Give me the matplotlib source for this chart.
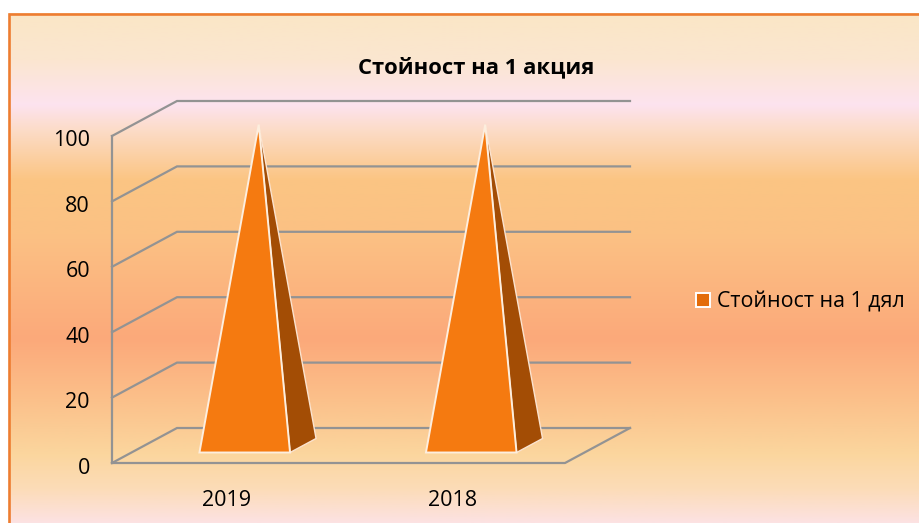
#!/usr/bin/env python3
"""Faux-3D pyramid chart: Стойност на 1 акция."""
import numpy as np
import matplotlib; matplotlib.use("Agg"); import matplotlib.pyplot as plt
from matplotlib.colors import LinearSegmentedColormap
from matplotlib.patches import Patch, Polygon

categories=["2019","2018"]
values=[98,98]
yticks=[0,20,40,60,80,100]
series_name="Стойност на 1 дял"
title="Стойност на 1 акция"

W,H=919,523
PX_X,PX_Y=226.5,3.27   # pixels per category / per value unit
X0,Y0=112,463          # pixel position of the origin
DX,DY=65/PX_X,35/PX_Y  # depth shift of the back wall, data units
plt.rcParams["font.family"]=["Open Sans","DejaVu Sans"]

fig=plt.figure(figsize=(W/100,H/100),dpi=100,facecolor="white")
ax=fig.add_axes([0,0,1,1])
ax.set_xlim(-X0/PX_X,(W-X0)/PX_X); ax.set_ylim((Y0-H)/PX_Y,Y0/PX_Y); ax.axis("off")

def px(x,y): return (x-X0)/PX_X,(Y0-y)/PX_Y
def prj(x,v,d): return x+d*DX,v+d*DY

# background gradient inside the orange frame
stops=[(14,"#fae6c6"),(60,"#fbe6d0"),(105,"#fde3ef"),(130,"#fcdcc8"),(180,"#fbc583"),(235,"#fbc184"),
       (340,"#fca97a"),(400,"#fbc08a"),(455,"#fbd69e"),(490,"#fcdcb8"),(523,"#fce2e2")]
pos=[(s-14)/(523-14) for s,_ in stops]
cmap=LinearSegmentedColormap.from_list("bg",list(zip(pos,[c for _,c in stops])))
x1,y1=px(9,523); x2,y2=px(919,14)
ax.imshow(np.linspace(0,1,256)[:,None],cmap=cmap,aspect="auto",extent=(x1,x2,y1,y2),origin="upper",zorder=0)
ax.set_xlim(-X0/PX_X,(W-X0)/PX_X); ax.set_ylim((Y0-H)/PX_Y,Y0/PX_Y)
ax.plot([x1,x1,x2],[y1,y2,y2],color="#ed7d31",lw=1.9,zorder=5,solid_joinstyle="miter")

# gridlines: front wall edge, back wall, floor
n=len(categories); grid="#939393"
for v in yticks:
    xs,ys=zip(prj(0,v,0),prj(0,v,1),prj(n,v,1))
    ax.plot(xs,ys,color=grid,lw=1.6,zorder=2,solid_joinstyle="miter")
    ax.text(*px(90,Y0-v*PX_Y+5),str(v),ha="right",va="center",fontsize=15.5,color="black")
ax.plot([0,0],[0,100],color=grid,lw=1.6,zorder=2)
ax.plot([0,n,n+DX],[0,0,DY],color=grid,lw=1.6,zorder=2)

# pyramids
for i,(c,v) in enumerate(zip(categories,values)):
    cx=i+.5; hw=.2; d0,d1,dm=.30,.70,.515
    fl=prj(cx-hw,0,d0); fr=prj(cx+hw,0,d0); br=prj(cx+hw,0,d1); top=prj(cx,v,dm)
    ax.add_patch(Polygon([fr,br,top],fc="#a34d05",ec="#fbe3cf",lw=1.0,zorder=3))
    ax.add_patch(Polygon([fl,fr,top],fc="#f57a10",ec="#fdeede",lw=1.4,zorder=4))
    ax.text(*px(X0+(i+.5)*PX_X+1,500),c,ha="center",va="center",fontsize=15.5,color="black")

ax.text(*px(476,68),title,ha="center",va="center",fontsize=15.8,fontweight="bold",color="black")
ax.legend(handles=[Patch(fc="#e36c0a",ec="white",lw=1.4,label=series_name)],loc="center left",
          bbox_to_anchor=(696/W,1-302/H),frameon=False,fontsize=15.4,handlelength=.65,handleheight=.65,
          handletextpad=.35,borderpad=0,borderaxespad=0,labelcolor="black")
fig.savefig("out.png",dpi=100)
